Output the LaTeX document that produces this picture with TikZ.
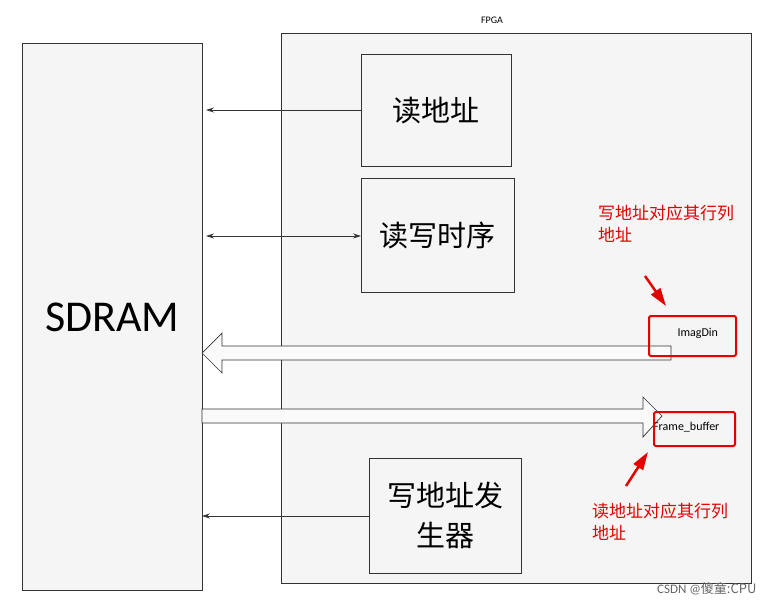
\documentclass[tikz,border=0pt]{standalone}
\usepackage{fontspec}
\setmainfont{Carlito}
\newfontfamily\cjk{Noto Sans CJK SC}
\usetikzlibrary{arrows.meta,shapes.arrows,calc}
\begin{document}
\begin{tikzpicture}[x=1pt,y=-1pt,
 box/.style={draw=black!80,fill=black!4,line width=0.8pt},
 conn/.style={draw=black!80,line width=0.7pt,-{Stealth[length=8pt,width=5pt]}},
 blk/.style={draw=black!80,fill=black!2,line width=0.7pt},
 redbox/.style={draw=red!90!black,line width=2pt,rounded corners=2pt},
 redtxt/.style={text=red!90!black,font=\cjk\fontsize{17}{22}\selectfont,align=left,anchor=north west,inner sep=0pt}]
\useasboundingbox (0,0) rectangle (773,605);
\fill[white] (0,0) rectangle (773,605);
\node[box,minimum width=470,minimum height=550,anchor=north west] (fpga) at (281,33) {};
\node[font=\fontsize{10}{12}\selectfont,anchor=south] (fl) at (492,27) {FPGA};
\node[box,minimum width=180,minimum height=547,anchor=north west,font=\fontsize{44}{50}\selectfont] (sd) at (22,43) {SDRAM};
\node[box,minimum width=150,minimum height=112,anchor=north west,font=\cjk\fontsize{29}{34}\selectfont] (ra) at (361,54) {读地址};
\node[box,minimum width=153,minimum height=114,anchor=north west,font=\cjk\fontsize{29}{34}\selectfont] (rw) at (361,178) {读写时序};
\node[box,minimum width=152,minimum height=115,anchor=north west,font=\cjk\fontsize{29}{40}\selectfont,align=center] (wa) at (369,458) {写地址发\\生器};
\coordinate (c1) at (206,110);
\coordinate (c2) at (206,236);
\coordinate (c3) at (202,516);
\draw[conn] (ra.west|-c1) -- (c1);
\draw[conn,{Stealth[length=8pt,width=5pt]}-{Stealth[length=8pt,width=5pt]}] (c2) -- (rw.west|-c2);
\draw[conn] (wa.west|-c3) -- (c3);
% block arrows
\draw[blk] (671,346) -- (222,346) -- (222,333) -- (202,353) -- (222,373) -- (222,360) -- (671,360) -- cycle;
\draw[blk] (202,409) -- (643,409) -- (643,397) -- (662,416) -- (643,437) -- (643,423) -- (202,423) -- cycle;
\node[font=\fontsize{12}{14}\selectfont,anchor=west] (im) at (674,333) {ImagDin};
\node[font=\fontsize{12}{14}\selectfont,anchor=west,inner sep=0pt] (fb) at (653,427) {Frame\_buffer};
\node[redbox,minimum width=87,minimum height=40,anchor=north west] (r1) at (648,315) {};
\node[redbox,minimum width=81,minimum height=34,anchor=north west] (r2) at (653,411) {};
\node[redtxt] (t1) at (598,205) {写地址对应其行列\\地址};
\node[redtxt] (t2) at (592,503) {读地址对应其行列\\地址};
\coordinate (p1) at (645,276);
\coordinate (p2) at (648,452);
\draw[red!90!black,line width=2.5pt,-{Triangle[length=18pt,width=11pt]}] (p1) -- ($(r1.north west)+(18,-9)$);
\draw[red!90!black,line width=2.5pt,-{Triangle[length=18pt,width=11pt]}] ($(r2.south west)+(-27,39)$) -- (p2);
\node[font=\fontsize{13}{15}\selectfont,text=black!60,anchor=south east] (wm) at (760,598) {CSDN @\cjk 傻童:CPU};
\end{tikzpicture}
\end{document}
